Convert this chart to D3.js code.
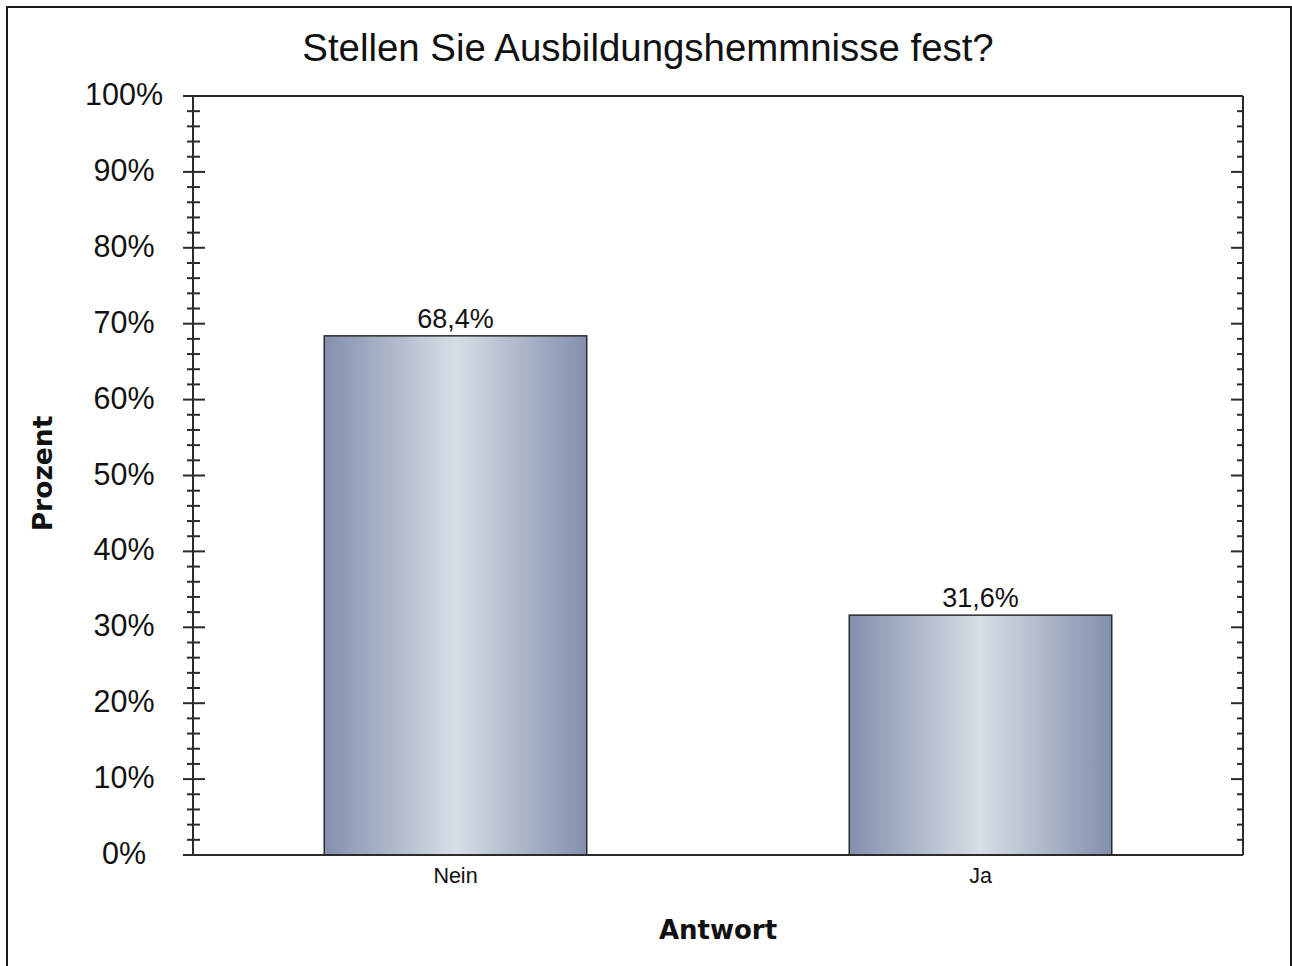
<!DOCTYPE html>
<html>
<head>
<meta charset="utf-8">
<script src="https://cdn.jsdelivr.net/npm/d3@7"></script>
<style>
  body { margin: 0; background: #fff; }
  text { font-family: "Liberation Sans", Arial, sans-serif; fill: #111; }
  .axtitle { font-family: "DejaVu Sans", Verdana, sans-serif; font-weight: bold; }
</style>
</head>
<body>
<div id="chart"></div>
<script>
var categories = ["Nein", "Ja"];
var values = [68.4, 31.6];
var valueLabels = ["68,4%", "31,6%"];
var yTicks = [0, 10, 20, 30, 40, 50, 60, 70, 80, 90, 100];
var minorTicks = d3.range(0, 101, 2);

var W = 1292, H = 966;
var margin = { left: 193, right: 49, top: 96, bottom: 111 };
var width = W - margin.left - margin.right;
var height = H - margin.top - margin.bottom;

var svg = d3.select("#chart").append("svg")
    .attr("width", W)
    .attr("height", H);

// outer frame (bottom edge runs off the picture)
svg.append("rect")
    .attr("x", 7).attr("y", 7)
    .attr("width", 1284).attr("height", 980)
    .attr("fill", "none")
    .attr("stroke", "#1a1a1a")
    .attr("stroke-width", 2);

var grad = svg.append("defs").append("linearGradient")
    .attr("id", "barGrad")
    .attr("x1", "0%").attr("x2", "100%").attr("y1", "0%").attr("y2", "0%");
grad.append("stop").attr("offset", "0%").attr("stop-color", "#8390ae");
grad.append("stop").attr("offset", "50%").attr("stop-color", "#d8dee5");
grad.append("stop").attr("offset", "100%").attr("stop-color", "#8390ae");

var g = svg.append("g")
    .attr("transform", "translate(" + margin.left + "," + margin.top + ")");

var x = d3.scaleBand().domain(categories).range([0, width]).paddingInner(0.5).paddingOuter(0.25);
var y = d3.scaleLinear().domain([0, 100]).range([height, 0]);

// bars
g.selectAll(".bar")
    .data(values).enter()
    .append("rect")
    .attr("class", "bar")
    .attr("x", function(d, i) { return x(categories[i]); })
    .attr("y", function(d) { return y(d); })
    .attr("width", x.bandwidth())
    .attr("height", function(d) { return height - y(d); })
    .attr("fill", "url(#barGrad)")
    .attr("stroke", "#2a2a2a")
    .attr("stroke-width", 1.5);

g.selectAll(".vlabel")
    .data(values).enter()
    .append("text")
    .attr("class", "vlabel")
    .attr("x", function(d, i) { return x(categories[i]) + x.bandwidth() / 2; })
    .attr("y", function(d) { return y(d) - 8; })
    .attr("text-anchor", "middle")
    .style("font-size", "27px")
    .text(function(d, i) { return valueLabels[i]; });

// frame of plot
var lineCol = "#2b2b2b";
g.append("line").attr("x1", -10).attr("x2", width).attr("y1", 0).attr("y2", 0)
    .attr("stroke", lineCol).attr("stroke-width", 2);
g.append("line").attr("x1", -10).attr("x2", width).attr("y1", height).attr("y2", height)
    .attr("stroke", lineCol).attr("stroke-width", 2);
g.append("line").attr("x1", 0).attr("x2", 0).attr("y1", 0).attr("y2", height)
    .attr("stroke", lineCol).attr("stroke-width", 2);
g.append("line").attr("x1", width).attr("x2", width).attr("y1", 0).attr("y2", height)
    .attr("stroke", lineCol).attr("stroke-width", 2);

// ticks left and right
var minorOnly = minorTicks.filter(function(d) { return yTicks.indexOf(d) < 0; });
g.selectAll(".minorL").data(minorOnly).enter().append("line")
    .attr("x1", -6).attr("x2", 7)
    .attr("y1", function(d) { return y(d); }).attr("y2", function(d) { return y(d); })
    .attr("stroke", lineCol).attr("stroke-width", 2);
g.selectAll(".majorL").data(yTicks).enter().append("line")
    .attr("x1", -10).attr("x2", 12)
    .attr("y1", function(d) { return y(d); }).attr("y2", function(d) { return y(d); })
    .attr("stroke", lineCol).attr("stroke-width", 2);
g.selectAll(".minorR").data(minorOnly).enter().append("line")
    .attr("x1", width - 6).attr("x2", width)
    .attr("y1", function(d) { return y(d); }).attr("y2", function(d) { return y(d); })
    .attr("stroke", lineCol).attr("stroke-width", 2);
g.selectAll(".majorR").data(yTicks).enter().append("line")
    .attr("x1", width - 12).attr("x2", width)
    .attr("y1", function(d) { return y(d); }).attr("y2", function(d) { return y(d); })
    .attr("stroke", lineCol).attr("stroke-width", 2);

g.selectAll(".ylabel").data(yTicks).enter().append("text")
    .attr("class", "ylabel")
    .attr("x", -69)
    .attr("y", function(d) { return y(d) + 9; })
    .attr("text-anchor", "middle")
    .style("font-size", "30.5px")
    .text(function(d) { return d + "%"; });

g.selectAll(".xlabel").data(categories).enter().append("text")
    .attr("class", "xlabel")
    .attr("x", function(d) { return x(d) + x.bandwidth() / 2; })
    .attr("y", height + 28)
    .attr("text-anchor", "middle")
    .style("font-size", "21.5px")
    .text(function(d) { return d; });

// titles
svg.append("text")
    .attr("x", 648).attr("y", 61)
    .attr("text-anchor", "middle")
    .style("font-size", "38.4px")
    .text("Stellen Sie Ausbildungshemmnisse fest?");

g.append("text")
    .attr("class", "axtitle")
    .attr("x", width / 2).attr("y", height + 84)
    .attr("text-anchor", "middle")
    .style("font-size", "26px")
    .text("Antwort");

g.append("text")
    .attr("class", "axtitle")
    .attr("transform", "rotate(-90)")
    .attr("x", -height / 2 + 2).attr("y", -141)
    .attr("text-anchor", "middle")
    .style("font-size", "26.5px")
    .text("Prozent");
</script>
</body>
</html>
